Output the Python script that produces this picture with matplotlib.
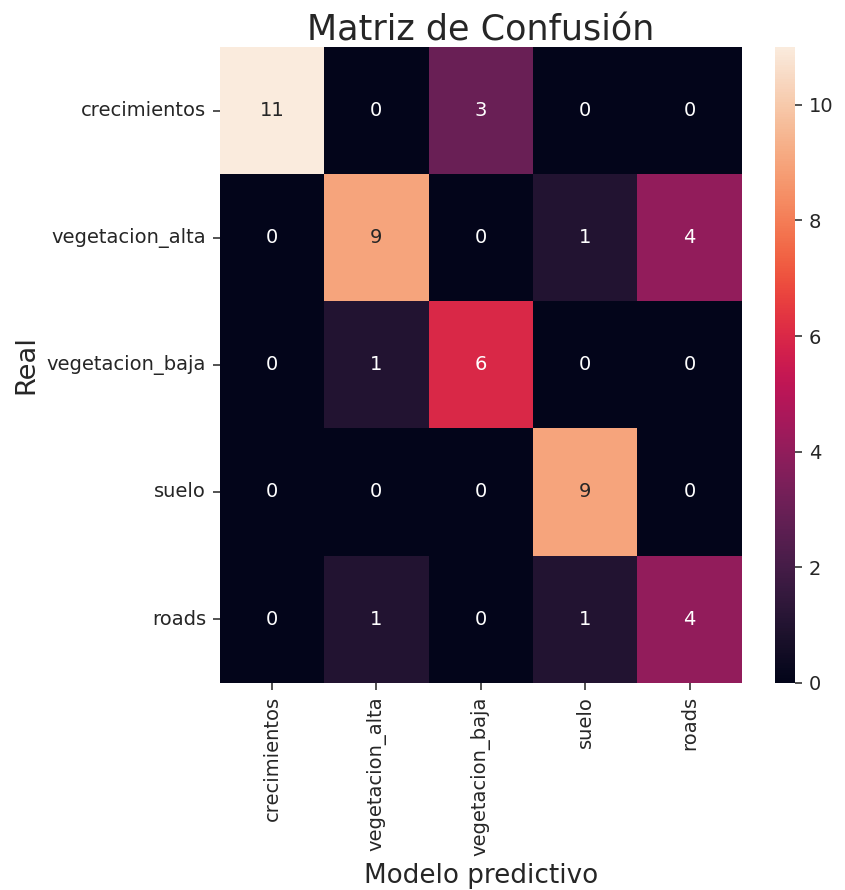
import numpy as np
import matplotlib
matplotlib.use('Agg')
import matplotlib.pyplot as plt
import seaborn as sns

clases = ['crecimientos', 'vegetacion_alta', 'vegetacion_baja', 'suelo', 'roads']
matriz = np.array([
    [11, 0, 3, 0, 0],
    [0, 9, 0, 1, 4],
    [0, 1, 6, 0, 0],
    [0, 0, 0, 9, 0],
    [0, 1, 0, 1, 4],
])

gris = '#262626'
plt.rcParams['text.color'] = gris
plt.rcParams['axes.labelcolor'] = gris
plt.rcParams['xtick.color'] = gris
plt.rcParams['ytick.color'] = gris

fig = plt.figure(figsize=(845 / 140, 890 / 140), dpi=140)
ax = fig.add_axes([0.260, 0.233, 0.618, 0.714])
cax = fig.add_axes([0.917, 0.233, 0.024, 0.714])
sns.heatmap(matriz, annot=True, fmt='d', cmap='rocket', ax=ax, cbar_ax=cax,
            xticklabels=clases, yticklabels=clases)
ax.set_title('Matriz de Confusión', fontsize=18, pad=3)
ax.set_xlabel('Modelo predictivo', fontsize=13.5)
ax.set_ylabel('Real', fontsize=14)
plt.setp(ax.get_xticklabels(), rotation=90)
plt.setp(ax.get_yticklabels(), rotation=0)
plt.savefig('out.png')
